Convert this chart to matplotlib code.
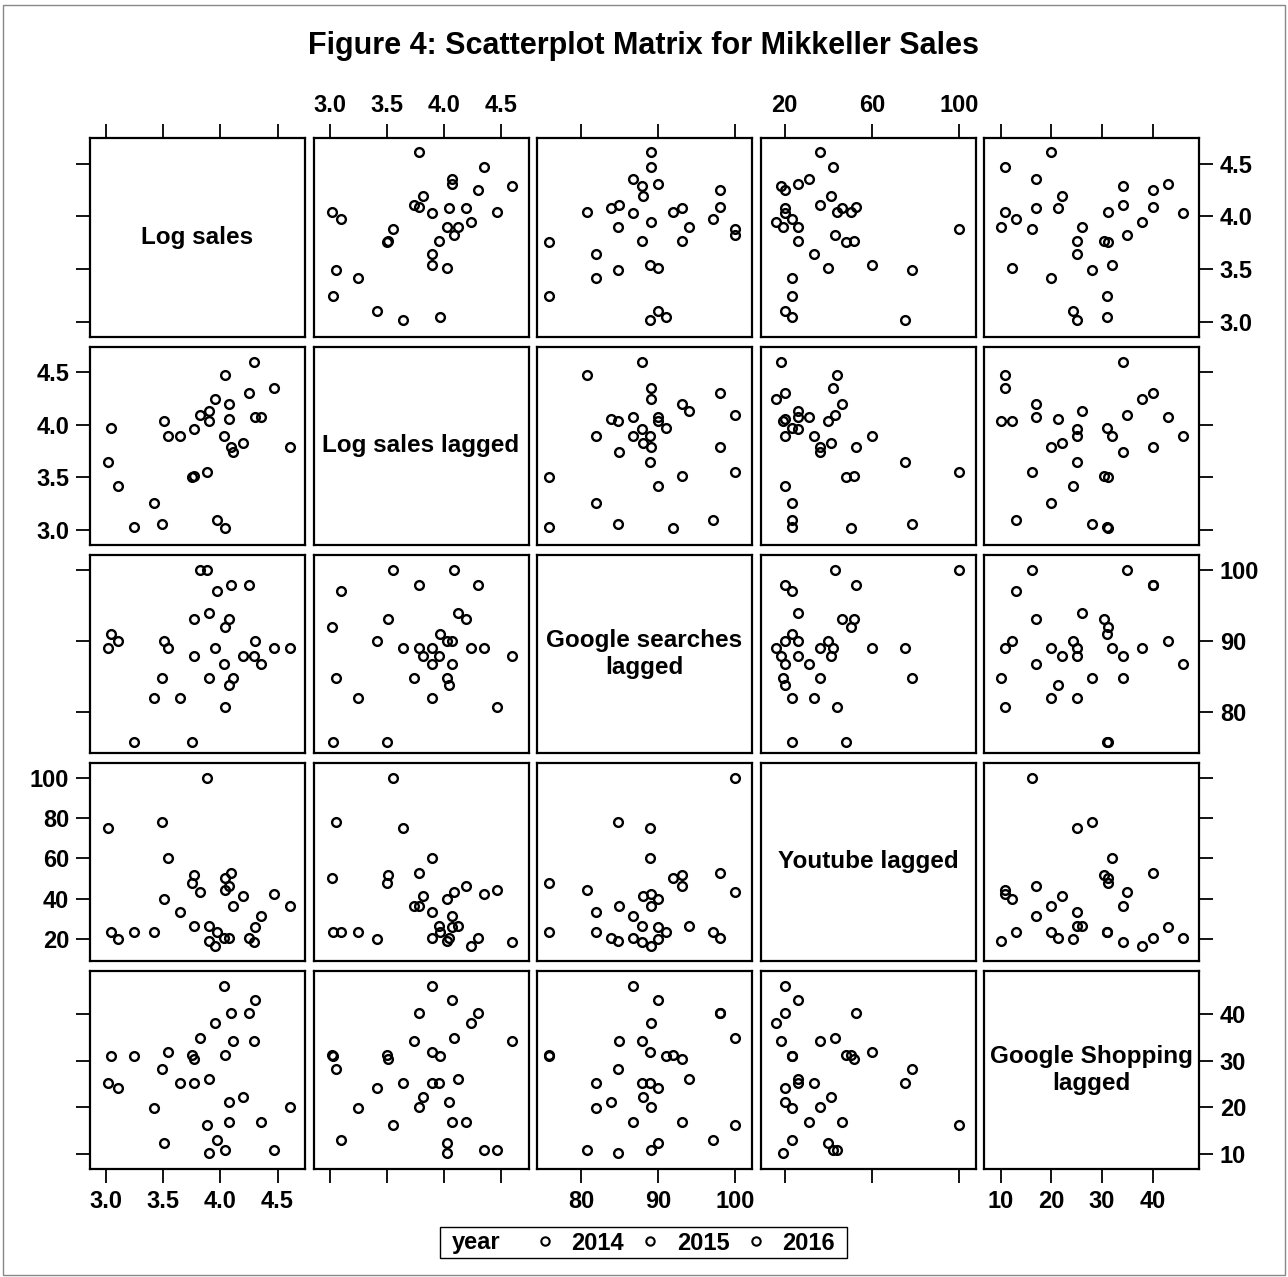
import matplotlib
matplotlib.use("Agg")
import matplotlib.pyplot as plt
from matplotlib.lines import Line2D
from matplotlib.patches import Rectangle

plt.rcParams["font.family"] = ["Liberation Sans", "DejaVu Sans"]
plt.rcParams["font.weight"] = "bold"

log_sales = [3.015, 3.044, 3.102, 3.242, 3.417, 3.489, 3.507, 3.539, 3.647, 3.752,
             3.766, 3.769, 3.824, 3.883, 3.897, 3.899, 3.950, 3.973, 4.034, 4.040,
             4.043, 4.075, 4.078, 4.089, 4.107, 4.197, 4.250, 4.290, 4.305, 4.355,
             4.471, 4.611]
log_sales_lagged = [3.644, 3.970, 3.417, 3.030, 3.253, 3.060, 4.030, 3.894, 3.894, 3.500,
                    3.954, 3.510, 4.086, 3.553, 4.124, 4.030, 4.238, 3.098, 3.894, 4.465,
                    3.022, 4.049, 4.197, 3.786, 3.742, 3.820, 4.295, 4.595, 4.070, 4.070,
                    4.348, 3.783]
google_searches_lagged = [89.0, 91.1, 90.0, 75.9, 82.0, 84.8, 90.0, 89.0, 82.0, 75.9,
                          87.9, 93.1, 100, 100, 94.0, 84.8, 89.1, 97.1, 86.8, 80.8,
                          92.0, 83.9, 93.1, 98.0, 84.9, 88.0, 98.0, 87.9, 90.0, 86.8,
                          89.1, 89.1]
youtube_lagged = [75, 23.2, 20, 23.2, 23.2, 78.3, 40, 60, 33.3, 48,
                  26.2, 51.7, 43.3, 100, 26.2, 19.2, 16.3, 23.3, 20.3, 44.2,
                  50.3, 20.3, 46.2, 52.5, 36.2, 41.2, 20.3, 18.3, 26, 31.2,
                  42.2, 36.2]
google_shopping_lagged = [25.1, 30.9, 24.2, 31, 19.9, 28.1, 12.2, 31.9, 25.1, 31.2,
                          25.1, 30.3, 34.9, 16.1, 26, 10.1, 38, 13, 46, 10.9,
                          31.1, 21.2, 16.9, 40.1, 34.1, 22.1, 40.1, 34.1, 43, 16.9,
                          10.9, 20]

names = ["Log sales", "Log sales lagged", "Google searches\nlagged",
         "Youtube lagged", "Google Shopping\nlagged"]
limits = [(2.86, 4.74), (2.86, 4.74), (74.3, 102.2), (9.0, 107.4), (6.65, 49.2)]
x_ticks = [[3.0, 3.5, 4.0, 4.5], [3.0, 3.5, 4.0, 4.5], [80, 90, 100],
           [20, 60, 100], [10, 20, 30, 40]]
x_labels = [["3.0", "3.5", "4.0", "4.5"], ["3.0", "3.5", "4.0", "4.5"],
            ["80", "90", "100"], ["20", "60", "100"], ["10", "20", "30", "40"]]
y_ticks = [[3.0, 3.5, 4.0, 4.5], [3.0, 3.5, 4.0, 4.5], [80, 90, 100],
           [20, 40, 60, 80, 100], [10, 20, 30, 40]]
y_labels = [["3.0", "3.5", "4.0", "4.5"], ["3.0", "3.5", "4.0", "4.5"],
            ["80", "90", "100"], ["20", "40", "60", "80", "100"],
            ["10", "20", "30", "40"]]

variables = [log_sales, log_sales_lagged, google_searches_lagged,
             youtube_lagged, google_shopping_lagged]

W, H = 1288, 1277
fig = plt.figure(figsize=(W / 100, H / 100), dpi=100)

left0, top0 = 90, 138.3
pw, ph = 215, 198.2
gx, gy = 8.5, 10

for i in range(5):
    for j in range(5):
        x0 = left0 + j * (pw + gx)
        y0 = top0 + i * (ph + gy)
        ax = fig.add_axes([x0 / W, 1 - (y0 + ph) / H, pw / W, ph / H])
        ax.set_xlim(limits[j])
        ax.set_ylim(limits[i])
        if i == j:
            ax.text(0.5, 0.5, names[i], ha="center", va="center",
                    fontsize=17.5, linespacing=1.2, transform=ax.transAxes)
        else:
            ax.plot(variables[j], variables[i], "o", mfc="none", mec="black",
                    ms=6.3, mew=1.7)
        ax.set_xticks(x_ticks[j], x_labels[j])
        ax.set_yticks(y_ticks[i], y_labels[i])
        ax.tick_params(bottom=False, top=False, left=False, right=False,
                       labelbottom=False, labeltop=False,
                       labelleft=False, labelright=False,
                       direction="out", length=10, width=1.3,
                       labelsize=17, pad=5)
        if i == 0:
            ax.tick_params(top=True, labeltop=(j % 2 == 1))
        if i == 4:
            ax.tick_params(bottom=True, labelbottom=(j % 2 == 0))
        if j == 0:
            ax.tick_params(left=True, labelleft=(i % 2 == 1))
        if j == 4:
            ax.tick_params(right=True, labelright=(i % 2 == 0))
        for s in ax.spines.values():
            s.set_linewidth(1.6)

fig.text(0.5, 1 - 46 / H, "Figure 4: Scatterplot Matrix for Mikkeller Sales",
         ha="center", va="center", fontsize=22, fontweight="bold")

# legend box at the bottom
fig.patches.append(Rectangle((440 / W, 1 - 1258.3 / H), 406.7 / W, 31 / H,
                             transform=fig.transFigure, fill=False,
                             ec="black", lw=1))
fig.text(452 / W, 1 - 1243 / H, "year", ha="left", va="center", fontsize=17)
handles = [Line2D([], [], ls="none", marker="o", mfc="none", mec="black",
                  ms=6.0, mew=1.5) for _ in range(3)]
fig.legend(handles, ["2014", "2015", "2016"], ncol=3, frameon=False,
           loc="center", bbox_to_anchor=(684 / W, 1 - 1243 / H),
           fontsize=17, handlelength=1.0, handletextpad=0.64,
           columnspacing=0.6, borderpad=0, borderaxespad=0)

# thin frame around the whole graphic
fig.patches.append(Rectangle((3 / W, 2 / H), 1282 / W, 1270 / H,
                             transform=fig.transFigure, fill=False,
                             ec="#888888", lw=1))

fig.savefig("out.png", dpi=100)
